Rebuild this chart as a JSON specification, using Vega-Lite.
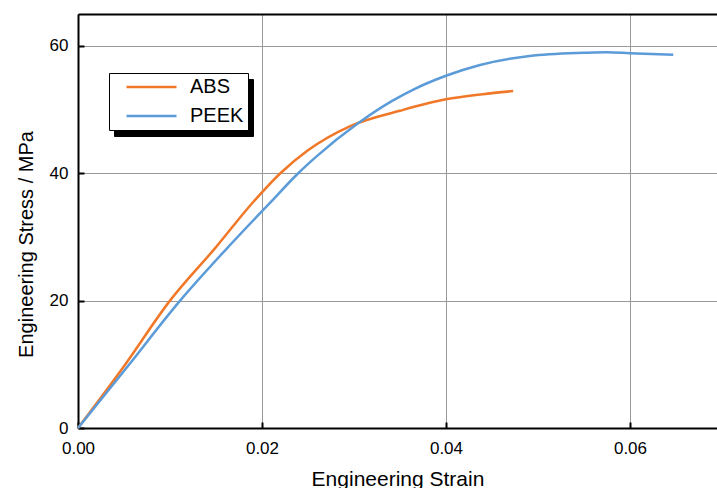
{
  "$schema": "https://vega.github.io/schema/vega-lite/v6.json",
  "autosize": {"type": "none"},
  "padding": {"left": 78, "top": 14, "right": 0, "bottom": 60},
  "width": 639,
  "height": 414,
  "background": "white",
  "config": {
    "font": "Liberation Sans",
    "view": {"stroke": null},
    "axis": {"labelFont": "Liberation Sans", "titleFont": "Liberation Sans", "labelColor": "black", "titleColor": "black", "titleFontWeight": "normal"}
  },
  "data": {"values": [
    {"series": "ABS", "strain": 0.0, "stress": 0.0},
    {"series": "ABS", "strain": 0.0049, "stress": 9.5},
    {"series": "ABS", "strain": 0.0100, "stress": 20.0},
    {"series": "ABS", "strain": 0.0150, "stress": 28.4},
    {"series": "ABS", "strain": 0.0190, "stress": 35.4},
    {"series": "ABS", "strain": 0.0220, "stress": 40.0},
    {"series": "ABS", "strain": 0.0250, "stress": 43.6},
    {"series": "ABS", "strain": 0.0296, "stress": 47.4},
    {"series": "ABS", "strain": 0.0350, "stress": 49.8},
    {"series": "ABS", "strain": 0.0400, "stress": 51.6},
    {"series": "ABS", "strain": 0.0440, "stress": 52.4},
    {"series": "ABS", "strain": 0.0473, "stress": 52.9},
    {"series": "PEEK", "strain": 0.0, "stress": 0.0},
    {"series": "PEEK", "strain": 0.0053, "stress": 9.5},
    {"series": "PEEK", "strain": 0.0111, "stress": 20.0},
    {"series": "PEEK", "strain": 0.0160, "stress": 27.9},
    {"series": "PEEK", "strain": 0.0211, "stress": 35.7},
    {"series": "PEEK", "strain": 0.0238, "stress": 39.8},
    {"series": "PEEK", "strain": 0.0259, "stress": 42.6},
    {"series": "PEEK", "strain": 0.0304, "stress": 47.8},
    {"series": "PEEK", "strain": 0.0342, "stress": 51.4},
    {"series": "PEEK", "strain": 0.0364, "stress": 53.1},
    {"series": "PEEK", "strain": 0.0400, "stress": 55.3},
    {"series": "PEEK", "strain": 0.0437, "stress": 57.0},
    {"series": "PEEK", "strain": 0.0491, "stress": 58.4},
    {"series": "PEEK", "strain": 0.0550, "stress": 58.9},
    {"series": "PEEK", "strain": 0.0575, "stress": 59.0},
    {"series": "PEEK", "strain": 0.0600, "stress": 58.85},
    {"series": "PEEK", "strain": 0.0647, "stress": 58.6}
  ]},
  "resolve": {"axis": {"x": "independent"}},
  "layer": [
    {
      "mark": {"type": "line", "opacity": 0},
      "encoding": {
        "x": {"field": "strain", "type": "quantitative",
          "axis": {"orient": "top", "title": null, "labels": false, "ticks": false, "grid": false, "domainColor": "black", "domainWidth": 2}},
        "y": {"field": "stress", "type": "quantitative"},
        "color": {"field": "series", "type": "nominal",
          "scale": {"domain": ["ABS", "PEEK"], "range": ["black", "black"]},
          "legend": {"title": null, "orient": "none", "legendX": 36, "legendY": 65, "zindex": 0, "fillColor": "black", "strokeColor": "black",
            "padding": 4, "symbolOffset": 28.5, "symbolType": "M-5,0H5", "symbolSize": 100, "symbolStrokeWidth": 2.5, "labelFontSize": 20, "labelFont": "Liberation Sans", "labelColor": "black", "rowPadding": 9, "labelOffset": 28.5, "labelExpr": "datum.label + ' '"}}
      }
    },
    {
      "mark": {"type": "line", "strokeWidth": 2.5, "interpolate": "monotone"},
      "encoding": {
        "x": {"field": "strain", "type": "quantitative", "scale": {"domain": [0, 0.06946], "nice": false, "zero": false},
          "axis": {"orient": "bottom", "title": "Engineering Strain", "titleFontSize": 21, "labelFontSize": 17, "values": [0, 0.02, 0.04, 0.06], "format": ".2f",
            "domainColor": "black", "domainWidth": 2, "tickColor": "black", "tickWidth": 2, "tickSize": -6, "labelPadding": 18, "grid": true,
            "gridColor": "#999999", "gridWidth": 1, "titlePadding": 12, "labelFlush": false}},
        "y": {"field": "stress", "type": "quantitative", "scale": {"domain": [0, 65], "nice": false},
          "axis": {"orient": "left", "title": "Engineering Stress / MPa", "titleFontSize": 20, "labelFontSize": 17, "values": [0, 20, 40, 60],
            "domainColor": "black", "domainWidth": 2, "tickColor": "black", "tickWidth": 2, "tickSize": -6, "labelPadding": 16, "grid": true,
            "gridColor": "#999999", "gridWidth": 1, "titleX": -46, "titleY": 230, "titleBaseline": "alphabetic", "titleAlign": "center", "labelFlush": false}},
        "stroke": {"field": "series", "type": "nominal",
          "scale": {"range": ["#F07828", "#5B9BD8"]},
          "legend": {"title": null, "orient": "none", "legendX": 31, "legendY": 59, "zindex": 1, "fillColor": "white", "strokeColor": "black",
            "padding": 4, "symbolOffset": 28.5, "symbolType": "M-5,0H5", "symbolSize": 100, "symbolStrokeWidth": 2.5, "labelFontSize": 20, "labelFont": "Liberation Sans", "labelColor": "black", "rowPadding": 9, "labelOffset": 28.5, "labelExpr": "datum.label + ' '"}}
      }
    }
  ]
}
